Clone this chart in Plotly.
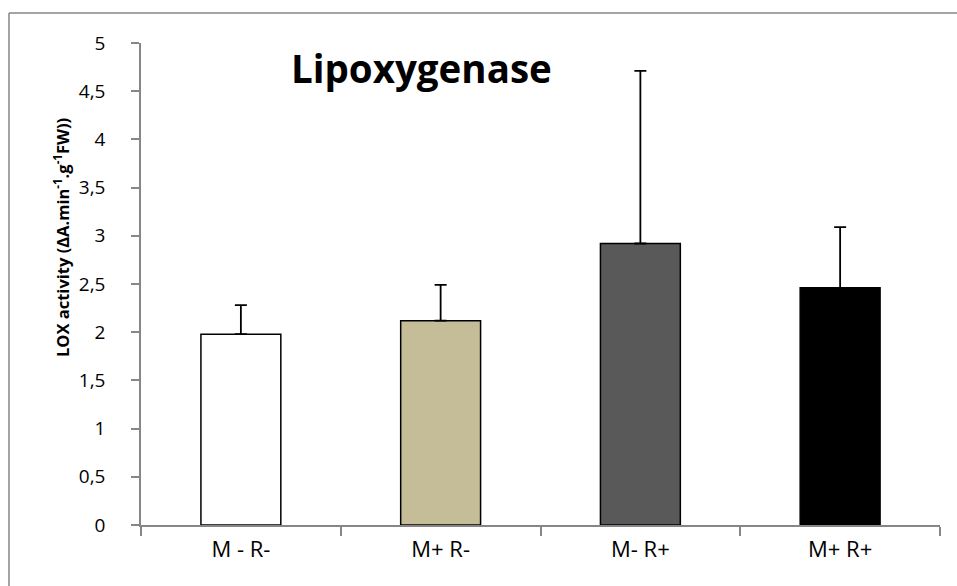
import plotly.graph_objects as go

categories = ["M - R-", "M+ R-", "M- R+", "M+ R+"]
values = [1.98, 2.12, 2.92, 2.46]
errors = [0.30, 0.37, 1.79, 0.63]
bar_colors = ["#FFFFFF", "#C4BD97", "#595959", "#000000"]
y_tickvals = [0, 0.5, 1, 1.5, 2, 2.5, 3, 3.5, 4, 4.5, 5]
y_ticktext = ["0", "0,5", "1", "1,5", "2", "2,5", "3", "3,5", "4", "4,5", "5"]

FONT = "Open Sans"
W, H = 957, 586
L, R, T, B = 141, 17, 43, 61
pw, ph = W - L - R, H - T - B

fig = go.Figure()
fig.add_trace(go.Bar(
    x=categories, y=values, width=0.4,
    marker=dict(color=bar_colors, line=dict(color="#000000", width=1.5)),
    error_y=dict(type="data", array=errors, symmetric=False, arrayminus=[0]*4,
                 color="#000000", thickness=1.8, width=6, visible=True),
    showlegend=False,
))

def px_x(p):
    return (p - L) / pw

def px_y(p):
    return (H - B - p) / ph

# outer chart border (only left and top edges visible in the reference)
fig.add_shape(type="line", xref="paper", yref="paper",
              x0=px_x(9), x1=px_x(957), y0=px_y(13), y1=px_y(13),
              line=dict(color="#868686", width=1.5), layer="below")
fig.add_shape(type="line", xref="paper", yref="paper",
              x0=px_x(9), x1=px_x(9), y0=px_y(13), y1=px_y(586),
              line=dict(color="#868686", width=1.5), layer="below")

fig.add_annotation(text="<b>Lipoxygenase</b>", xref="paper", yref="paper",
                   x=px_x(421), y=px_y(68), showarrow=False,
                   font=dict(family=FONT, size=38.5, color="#000000"),
                   xanchor="center", yanchor="middle")

fig.add_annotation(text="<b>LOX activity (ΔA.min<sup>-1</sup>.g<sup>-1</sup>FW))</b>",
                   xref="paper", yref="paper", x=px_x(62), y=px_y(238),
                   showarrow=False, textangle=-90,
                   font=dict(family=FONT, size=16.5, color="#000000"),
                   xanchor="center", yanchor="middle")

fig.update_layout(
    width=W, height=H,
    margin=dict(l=L, r=R, t=T, b=B),
    paper_bgcolor="#FFFFFF", plot_bgcolor="#FFFFFF",
    font=dict(family=FONT, color="#000000"),
    bargap=0.6,
)
fig.update_xaxes(
    type="category", range=[-0.5, 3.5],
    showline=True, linecolor="#868686", linewidth=1.5,
    ticks="outside", tickson="boundaries", ticklen=9, tickcolor="#868686", tickwidth=1.5,
    tickfont=dict(family=FONT, size=22, color="#000000"),
    ticklabelstandoff=4,
    showgrid=False, zeroline=False,
)
fig.update_yaxes(
    range=[0, 5], tickvals=y_tickvals, ticktext=y_ticktext,
    showline=True, linecolor="#868686", linewidth=1.5,
    ticks="outside", ticklen=8, tickcolor="#868686", tickwidth=1.5,
    tickfont=dict(family=FONT, size=19, color="#000000"),
    ticklabelstandoff=22,
    showgrid=False, zeroline=False,
)

fig.write_html("out.html", config={"displayModeBar": False},
               post_script="document.body.style.margin='0';document.body.style.overflow='hidden';")
